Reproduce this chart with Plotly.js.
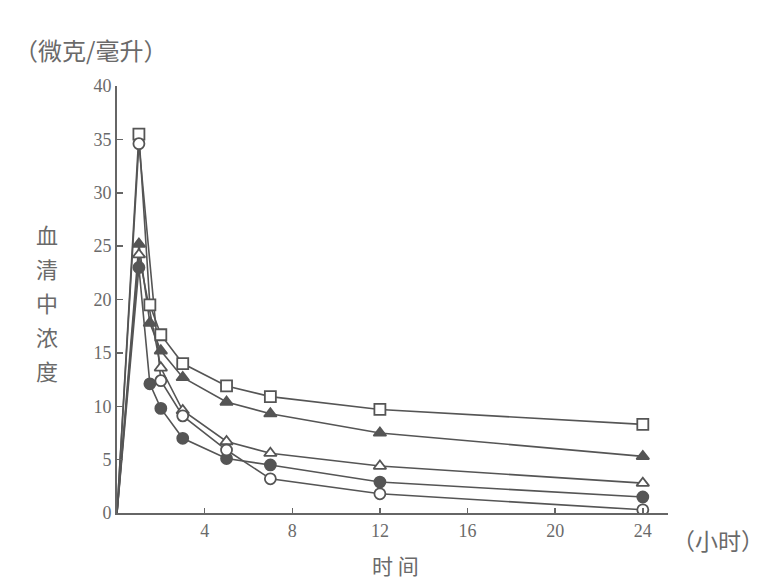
<!DOCTYPE html>
<html><head><meta charset="utf-8">
<script src="https://cdn.plot.ly/plotly-3.0.1.min.js"></script>
<style>html,body{margin:0;padding:0;background:#fff}</style>
</head><body>
<div id="chart" style="width:765px;height:584px"></div>
<script>
var time = [0, 1, 1.5, 2, 3, 5, 7, 12, 24];
var seriesA = [0, 35.5, 19.5, 16.7, 14.0, 11.9, 10.9, 9.7, 8.3];
var seriesB = [0, 25.2, 17.8, 15.2, 12.7, 10.4, 9.3, 7.5, 5.3];
var seriesC = [0, 24.2, null, 13.6, 9.6, 6.7, 5.6, 4.4, 2.8];
var seriesD = [0, 23.0, 12.1, 9.8, 7.0, 5.1, 4.5, 2.9, 1.5];
var seriesE = [0, 34.6, null, 12.4, 9.1, 5.9, 3.2, 1.8, 0.3];
var xTicks = [4, 8, 12, 16, 20, 24];
var yTicks = [0, 5, 10, 15, 20, 25, 30, 35, 40];
var yTitleChars = ['血', '清', '中', '浓', '度'];

var lineCol = '#555';
function tr(y) {
  return {
    x: time, y: y, type: 'scatter', mode: 'lines', connectgaps: true,
    line: {color: lineCol, width: 1.6},
    hoverinfo: 'skip', showlegend: false
  };
}
function mk(y, sym, fill) {
  return {
    x: time.slice(1), y: y.slice(1), type: 'scatter', mode: 'markers',
    marker: {symbol: sym, size: 11, color: fill, line: {color: lineCol, width: 1.8}},
    hoverinfo: 'skip', showlegend: false
  };
}
var data = [
  tr(seriesA), tr(seriesB), tr(seriesC), tr(seriesD), tr(seriesE),
  mk(seriesA, 'square', '#fff'),
  mk(seriesB, 'triangle-up', '#555'),
  mk(seriesC, 'triangle-up', '#fff'),
  mk(seriesD, 'circle', '#555'),
  mk(seriesE, 'circle', '#fff')
];

var txt = '#6a6a6a';
var serif = 'Liberation Serif, DejaVu Serif, serif';
var cjk = 'Noto Sans CJK SC, sans-serif';
var ann = [
  {text: '（微克/毫升）', xref: 'paper', yref: 'paper', x: -0.19, y: 1.086, xanchor: 'left', yanchor: 'middle',
   showarrow: false, font: {family: cjk, size: 24, color: txt}},
  {text: '（小时）', xref: 'paper', yref: 'paper', x: 1.004, y: -0.063, xanchor: 'left', yanchor: 'middle',
   showarrow: false, font: {family: cjk, size: 23, color: txt}},
  {text: '时 间', xref: 'paper', yref: 'paper', x: 0.505, y: -0.122, xanchor: 'center', yanchor: 'middle',
   showarrow: false, font: {family: cjk, size: 21, color: txt}}
];
yTitleChars.forEach(function(c, i) {
  ann.push({text: c, xref: 'paper', yref: 'paper', x: -0.127, y: (513 - (234 + i * 34)) / 427,
    xanchor: 'center', yanchor: 'middle', showarrow: false, font: {family: cjk, size: 22, color: txt}});
});
var layout = {
  width: 765, height: 584,
  margin: {l: 117, r: 97, t: 86, b: 71},
  paper_bgcolor: '#fff', plot_bgcolor: '#fff',
  xaxis: {
    range: [0, 25.15], tickvals: xTicks, ticktext: xTicks.map(String),
    showgrid: false, zeroline: false, showline: true, linecolor: '#666', linewidth: 2,
    ticks: 'inside', ticklen: 5, tickcolor: '#666', tickwidth: 1.5,
    tickfont: {family: serif, size: 18, color: txt}
  },
  yaxis: {
    range: [0, 40], tickvals: yTicks, ticktext: yTicks.map(String),
    showgrid: false, zeroline: false, showline: true, linecolor: '#666', linewidth: 2,
    ticks: 'inside', ticklen: 6, tickcolor: '#666', tickwidth: 1.5,
    tickfont: {family: serif, size: 18, color: txt}
  },
  annotations: ann
};
Plotly.newPlot('chart', data, layout, {displayModeBar: false, staticPlot: true});
</script>
</body></html>
